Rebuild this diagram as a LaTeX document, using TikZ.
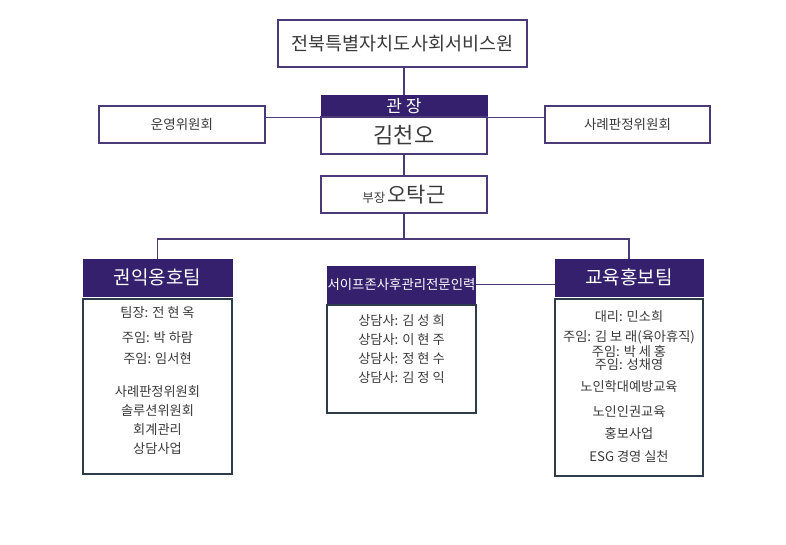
\documentclass[tikz,border=0pt]{standalone}
\usepackage{fontspec}
\setmainfont{Noto Sans CJK KR}
\definecolor{hdr}{HTML}{35206E}
\definecolor{lin}{HTML}{4A3B78}
\definecolor{bod}{HTML}{2E3B48}
\definecolor{txt}{HTML}{3A3A3A}
\tikzset{
  box/.style={draw=lin, line width=1.3pt, rectangle, inner sep=0pt, text=txt},
  hdrbox/.style={rectangle, fill=hdr, draw=hdr, line width=1pt, inner sep=0pt, text=white},
  bodybox/.style={draw=bod, line width=1.3pt, rectangle, inner sep=0pt},
  conn/.style={draw=lin, line width=1.3pt},
  lbl/.style={inner sep=0pt, text=txt, font=\fontsize{13.2}{15}\selectfont}
}
\begin{document}
\begin{tikzpicture}[x=1pt,y=-1pt]
\useasboundingbox (0,0) rectangle (786,544);
% top
\node[box, minimum width=249pt, minimum height=47pt, font=\fontsize{18.5}{20}\selectfont] (top) at (402.5,43.5) {전북특별자치도사회서비스원};
% director
\node[hdrbox, minimum width=166pt, minimum height=22pt, font=\fontsize{17}{19}\selectfont] (gwanh) at (404,106) {관 장};
\node[box, minimum width=166pt, minimum height=37pt, font=\fontsize{22}{24}\selectfont] (gwanb) at (404,135.5) {김천오};
% deputy
\node[box, minimum width=166pt, minimum height=37pt] (bu) at (404,194.5) {{\fontsize{12.5}{14}\selectfont 부장} {\fontsize{21}{23}\selectfont 오탁근}};
% side committees
\node[box, minimum width=166pt, minimum height=37pt, font=\fontsize{13.5}{15}\selectfont] (leftc) at (182,124.5) {운영위원회};
\node[box, minimum width=165pt, minimum height=37pt, font=\fontsize{13.5}{15}\selectfont] (rightc) at (627.5,124.5) {사례판정위원회};
% teams
\node[hdrbox, minimum width=149pt, minimum height=37pt, font=\fontsize{19}{21}\selectfont] (lh) at (157.5,277.5) {권익옹호팀};
\node[bodybox, minimum width=149pt, minimum height=175pt] (lb) at (157.5,386.5) {};
\node[hdrbox, minimum width=147pt, minimum height=37pt, font=\fontsize{13.4}{15}\selectfont] (mh) at (401.5,284.5) {서이프존사후관리전문인력};
\node[bodybox, minimum width=149pt, minimum height=108pt] (mb) at (401.5,359) {};
\node[hdrbox, minimum width=148pt, minimum height=37pt, font=\fontsize{19}{21}\selectfont] (rh) at (629,277.5) {교육홍보팀};
\node[bodybox, minimum width=148pt, minimum height=177pt] (rb) at (629,387.5) {};
% connectors
\coordinate (bus) at (404,239);
\draw[conn] (top.south -| gwanh.north) -- (gwanh.north);
\draw[conn] (leftc.east |- gwanh.south) -- (gwanh.south west);
\draw[conn] (gwanh.south east) -- (rightc.west |- gwanh.south);
\draw[conn] (gwanb.south) -- (bu.north);
\draw[conn] (bu.south) -- (bus);
\draw[conn] (lh.north) -- (lh.north |- bus) -- (rh.north |- bus) -- (rh.north);
\draw[conn] (mh.east) -- (mh.east -| rh.west);
% left team text
\node[lbl] (l1) at (157.5,313) {팀장: 전 현 옥};
\node[lbl] (l2) at (157.5,338) {주임: 박 하람};
\node[lbl] (l3) at (157.5,359) {주임: 임서현};
\node[lbl] (l4) at (157.5,392) {사례판정위원회};
\node[lbl] (l5) at (157.5,411) {솔루션위원회};
\node[lbl] (l6) at (157.5,430) {회계관리};
\node[lbl] (l7) at (157.5,449) {상담사업};
% middle team text
\node[lbl] (m1) at (401.5,321) {상담사: 김 성 희};
\node[lbl] (m2) at (401.5,340) {상담사: 이 현 주};
\node[lbl] (m3) at (401.5,359) {상담사: 정 현 수};
\node[lbl] (m4) at (401.5,378) {상담사: 김 정 익};
% right team text
\node[lbl] (r1) at (629,317) {대리: 민소희};
\node[lbl] (r2) at (629,337) {주임: 김 보 래(육아휴직)};
\node[lbl] (r3) at (629,351) {주임: 박 세 홍};
\node[lbl] (r4) at (629,365) {주임: 성채영};
\node[lbl] (r5) at (629,387) {노인학대예방교육};
\node[lbl] (r6) at (629,412) {노인인권교육};
\node[lbl] (r7) at (629,433) {홍보사업};
\node[lbl] (r8) at (629,457) {ESG 경영 실천};
\end{tikzpicture}
\end{document}
